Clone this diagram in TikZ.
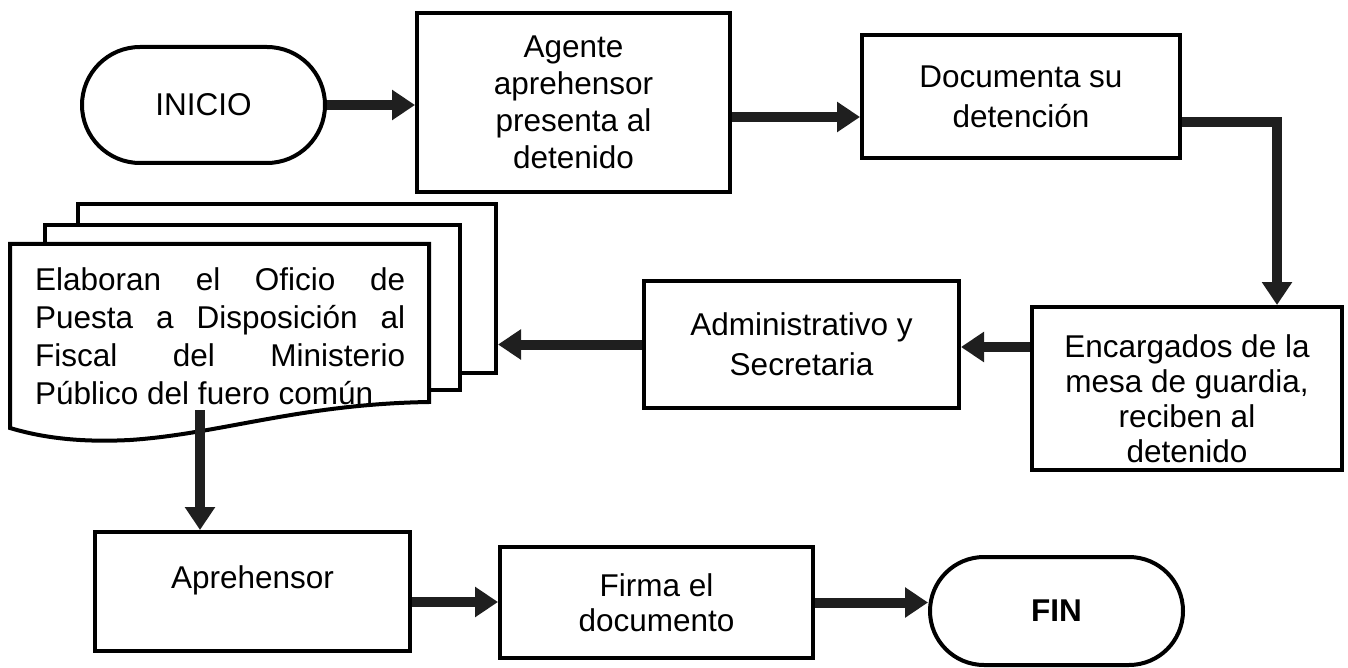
\documentclass[tikz,border=0pt]{standalone}
\usepackage{fontspec}
\setmainfont{Liberation Sans}
\usetikzlibrary{arrows.meta,shapes.misc,calc}
\begin{document}
\begin{tikzpicture}[x=1pt,y=-1pt,
  box/.style={draw, line width=4pt, fill=white, inner sep=0pt, align=center,
    font=\fontsize{31.5}{37}\selectfont},
  term/.style={box, rounded rectangle},
  flow/.style={line width=10pt, draw=black!88, -{Triangle[length=23pt,width=29pt]}},
  sheet/.style={draw, line width=4pt, fill=white, inner sep=0pt},
  txt/.style={inner sep=0pt, align=center, font=\fontsize{31.5}{35}\selectfont},
]
\useasboundingbox (0,0) rectangle (1348,668);

% document stack
\node[sheet, minimum width=418pt, minimum height=169pt] (back) at (287,288.5) {};
\node[sheet, minimum width=415pt, minimum height=165pt] (middle) at (252.5,307.5) {};
\draw[line width=4pt, fill=white] (10,244) -- (429,244) -- (429,402)
  .. controls (300,404) and (220,434) .. (130,440)
  .. controls (90,442) and (50,440) .. (10,428) -- cycle;
\node[anchor=north west, inner sep=0pt, align=left,
  font=\fontsize{31.5}{38}\selectfont] (doctxt) at (35,267)
  {\makebox[370pt][s]{Elaboran el Oficio de}\\
   \makebox[370pt][s]{Puesta a Disposición al}\\
   \makebox[370pt][s]{Fiscal del Ministerio}\\
   Público del fuero común};
\coordinate (docbot) at (200,410);

% nodes
\node[term, minimum width=243pt, minimum height=116pt] (ini) at (203.5,105) {INICIO};
\node[box, minimum width=313pt, minimum height=179pt] (agente) at (573.5,102.5)
  {Agente\\aprehensor\\presenta al\\detenido};
\node[box, minimum width=318pt, minimum height=123pt] (docu) at (1021,96.5)
  {Documenta su\\[3pt]detención};
\node[box, minimum width=310pt, minimum height=163pt] (enc) at (1187,388.5) {};
\node[txt] (enctxt) at ([yshift=-10pt]enc.center)
  {Encargados de la\\mesa de guardia,\\reciben al\\detenido};
\node[box, minimum width=315pt, minimum height=127pt] (admin) at (801.5,344.5)
  {Administrativo y\\[3pt]Secretaria};
\node[box, minimum width=315pt, minimum height=119pt, text depth=28pt] (aprehensor) at (252.5,591.5)
  {Aprehensor};
\node[box, minimum width=313pt, minimum height=111pt,
  font=\fontsize{31.5}{35}\selectfont] (firma) at (656.5,602.5)
  {Firma el\\documento};
\node[term, minimum width=253pt, minimum height=108pt] (fin) at (1056.5,611)
  {\bfseries FIN};

% connectors
\coordinate (a1) at ([yshift=-14.5pt]agente.east);
\coordinate (d1) at ([yshift=-26pt]docu.east);
\coordinate (e1) at ([xshift=90pt]enc.north);
\coordinate (e2) at ([yshift=41.5pt]enc.west);
\coordinate (p1) at ([yshift=-10.5pt]aprehensor.east);

\draw[flow] (ini.east) -- (ini.east -| agente.west);
\draw[flow] (a1) -- (a1 -| docu.west);
\draw[flow] (d1) -| (e1);
\draw[flow] (e2) -- (e2 -| admin.east);
\draw[flow] (admin.west) -- (admin.west -| back.east);
\draw[flow] (docbot) -- (docbot |- aprehensor.north);
\draw[flow] (p1) -- (p1 -| firma.west);
\draw[flow] (firma.east) -- (firma.east -| fin.west);
\end{tikzpicture}
\end{document}
